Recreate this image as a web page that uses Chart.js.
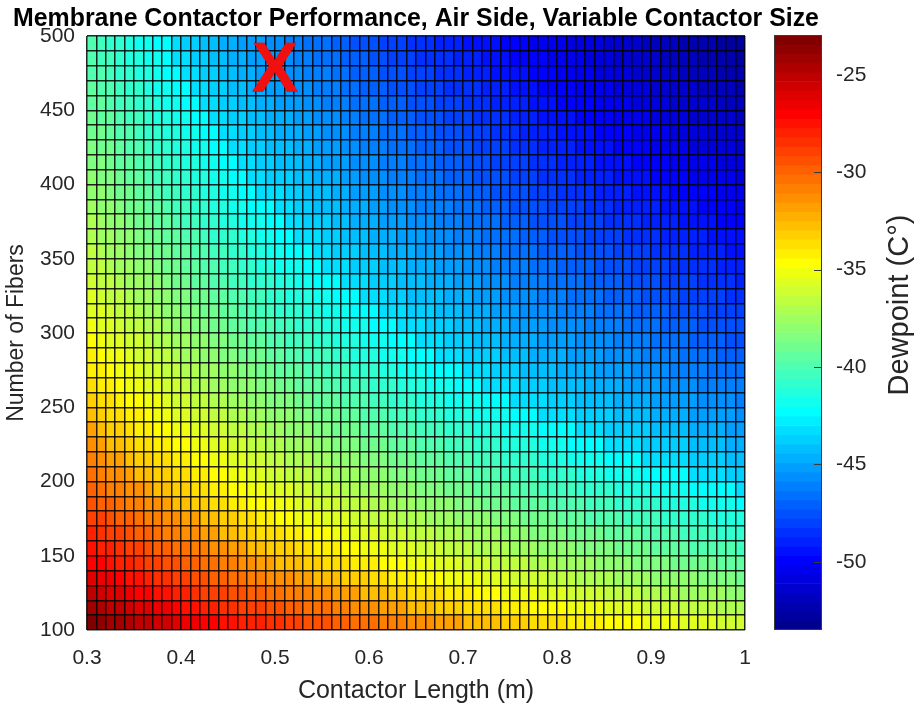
<!DOCTYPE html>
<html>
<head>
<meta charset="utf-8">
<script src="https://cdn.jsdelivr.net/npm/chart.js@4.4.1/dist/chart.umd.min.js"></script>
<style>
  html, body { margin: 0; padding: 0; background: #ffffff; overflow: hidden; }
  #wrap { position: relative; width: 921px; height: 703px; }
  #main { position: absolute; left: 0; top: 0; }
  #cbar { position: absolute; left: 760px; top: 0; }
</style>
</head>
<body>
<div id="wrap">
  <canvas id="main" width="840" height="703" style="width:840px;height:703px"></canvas>
  <canvas id="cbar" width="161" height="703" style="width:161px;height:703px"></canvas>
</div>
<script>
// ---------------- data ----------------
// cell left edges along x (contactor length, m)
const contactorLength = [0.30,0.31,0.32,0.33,0.34,0.35,0.36,0.37,0.38,0.39,
  0.40,0.41,0.42,0.43,0.44,0.45,0.46,0.47,0.48,0.49,
  0.50,0.51,0.52,0.53,0.54,0.55,0.56,0.57,0.58,0.59,
  0.60,0.61,0.62,0.63,0.64,0.65,0.66,0.67,0.68,0.69,
  0.70,0.71,0.72,0.73,0.74,0.75,0.76,0.77,0.78,0.79,
  0.80,0.81,0.82,0.83,0.84,0.85,0.86,0.87,0.88,0.89,
  0.90,0.91,0.92,0.93,0.94,0.95,0.96,0.97,0.98,0.99];
const lengthEnd = 1.00;
// cell bottom edges along y (number of fibers)
const fiberCount = [100,110,120,130,140,150,160,170,180,190,
  200,210,220,230,240,250,260,270,280,290,
  300,310,320,330,340,350,360,370,380,390,
  400,410,420,430,440,450,460,470,480,490];
const fiberEnd = 500;

// dewpoint (°C) of each cell, one row per fiber count (bottom row first)
const dewpoint = [
[-23,-23.5,-24,-24,-24.5,-25,-25,-25.5,-25.5,-26,-26.5,-26.5,-27,-27,-27.5,-27.5,-28,-28,-28,-28.5,-28.5,-29,-29,-29.5,-29.5,-29.5,-30,-30,-30.5,-30.5,-30.5,-31,-31,-31,-31.5,-31.5,-31.5,-32,-32,-32,-32.5,-32.5,-32.5,-32.5,-33,-33,-33,-33.5,-33.5,-33.5,-33.5,-34,-34,-34,-34,-34.5,-34.5,-34.5,-34.5,-35,-35,-35,-35,-35.5,-35.5,-35.5,-35.5,-36,-36,-36],
[-24,-24.5,-25,-25,-25.5,-26,-26,-26.5,-26.5,-27,-27.5,-27.5,-28,-28,-28.5,-28.5,-29,-29,-29,-29.5,-29.5,-30,-30,-30.5,-30.5,-30.5,-31,-31,-31.5,-31.5,-31.5,-32,-32,-32,-32.5,-32.5,-32.5,-33,-33,-33,-33.5,-33.5,-33.5,-33.5,-34,-34,-34,-34.5,-34.5,-34.5,-34.5,-35,-35,-35,-35,-35.5,-35.5,-35.5,-35.5,-36,-36,-36,-36,-36.5,-36.5,-36.5,-36.5,-37,-37,-37],
[-25,-25.5,-26,-26,-26.5,-27,-27,-27.5,-27.5,-28,-28,-28.5,-29,-29,-29,-29.5,-29.5,-30,-30,-30.5,-30.5,-31,-31,-31,-31.5,-31.5,-32,-32,-32,-32.5,-32.5,-32.5,-33,-33,-33.5,-33.5,-33.5,-33.5,-34,-34,-34,-34.5,-34.5,-34.5,-35,-35,-35,-35,-35.5,-35.5,-35.5,-36,-36,-36,-36,-36.5,-36.5,-36.5,-36.5,-37,-37,-37,-37,-37.5,-37.5,-37.5,-37.5,-37.5,-38,-38],
[-26,-26.5,-26.5,-27,-27.5,-27.5,-28,-28.5,-28.5,-29,-29,-29.5,-29.5,-30,-30,-30.5,-30.5,-31,-31,-31.5,-31.5,-31.5,-32,-32,-32.5,-32.5,-32.5,-33,-33,-33,-33.5,-33.5,-34,-34,-34,-34.5,-34.5,-34.5,-35,-35,-35,-35,-35.5,-35.5,-35.5,-36,-36,-36,-36,-36.5,-36.5,-36.5,-37,-37,-37,-37,-37.5,-37.5,-37.5,-37.5,-38,-38,-38,-38,-38,-38.5,-38.5,-38.5,-38.5,-39],
[-27,-27,-27.5,-28,-28,-28.5,-29,-29,-29.5,-29.5,-30,-30,-30.5,-30.5,-31,-31,-31.5,-31.5,-32,-32,-32.5,-32.5,-32.5,-33,-33,-33.5,-33.5,-33.5,-34,-34,-34,-34.5,-34.5,-34.5,-35,-35,-35,-35.5,-35.5,-35.5,-36,-36,-36,-36.5,-36.5,-36.5,-36.5,-37,-37,-37,-37.5,-37.5,-37.5,-37.5,-38,-38,-38,-38,-38.5,-38.5,-38.5,-38.5,-39,-39,-39,-39,-39,-39.5,-39.5,-39.5],
[-27.5,-28,-28,-28.5,-29,-29,-29.5,-30,-30,-30.5,-30.5,-31,-31,-31.5,-31.5,-32,-32,-32.5,-32.5,-33,-33,-33,-33.5,-33.5,-34,-34,-34,-34.5,-34.5,-35,-35,-35,-35.5,-35.5,-35.5,-36,-36,-36,-36.5,-36.5,-36.5,-37,-37,-37,-37,-37.5,-37.5,-37.5,-38,-38,-38,-38,-38.5,-38.5,-38.5,-38.5,-39,-39,-39,-39,-39.5,-39.5,-39.5,-39.5,-40,-40,-40,-40,-40,-40.5],
[-28,-28.5,-29,-29,-29.5,-30,-30,-30.5,-31,-31,-31.5,-31.5,-32,-32,-32.5,-32.5,-33,-33,-33.5,-33.5,-33.5,-34,-34,-34.5,-34.5,-34.5,-35,-35,-35.5,-35.5,-35.5,-36,-36,-36,-36.5,-36.5,-36.5,-37,-37,-37,-37.5,-37.5,-37.5,-37.5,-38,-38,-38,-38.5,-38.5,-38.5,-38.5,-39,-39,-39,-39,-39.5,-39.5,-39.5,-39.5,-40,-40,-40,-40,-40.5,-40.5,-40.5,-40.5,-41,-41,-41],
[-29,-29,-29.5,-30,-30,-30.5,-31,-31,-31.5,-31.5,-32,-32,-32.5,-32.5,-33,-33,-33.5,-33.5,-34,-34,-34.5,-34.5,-35,-35,-35,-35.5,-35.5,-35.5,-36,-36,-36.5,-36.5,-36.5,-37,-37,-37,-37.5,-37.5,-37.5,-38,-38,-38,-38,-38.5,-38.5,-38.5,-39,-39,-39,-39,-39.5,-39.5,-39.5,-40,-40,-40,-40,-40.5,-40.5,-40.5,-40.5,-41,-41,-41,-41,-41,-41.5,-41.5,-41.5,-41.5],
[-29.5,-30,-30,-30.5,-31,-31,-31.5,-31.5,-32,-32.5,-32.5,-33,-33,-33.5,-33.5,-34,-34,-34.5,-34.5,-34.5,-35,-35,-35.5,-35.5,-36,-36,-36,-36.5,-36.5,-36.5,-37,-37,-37.5,-37.5,-37.5,-38,-38,-38,-38,-38.5,-38.5,-38.5,-39,-39,-39,-39.5,-39.5,-39.5,-39.5,-40,-40,-40,-40,-40.5,-40.5,-40.5,-41,-41,-41,-41,-41,-41.5,-41.5,-41.5,-41.5,-42,-42,-42,-42,-42.5],
[-30,-30.5,-31,-31,-31.5,-31.5,-32,-32.5,-32.5,-33,-33,-33.5,-33.5,-34,-34,-34.5,-34.5,-35,-35,-35.5,-35.5,-35.5,-36,-36,-36.5,-36.5,-36.5,-37,-37,-37.5,-37.5,-37.5,-38,-38,-38,-38.5,-38.5,-38.5,-39,-39,-39,-39.5,-39.5,-39.5,-39.5,-40,-40,-40,-40.5,-40.5,-40.5,-40.5,-41,-41,-41,-41,-41.5,-41.5,-41.5,-41.5,-42,-42,-42,-42,-42.5,-42.5,-42.5,-42.5,-42.5,-43],
[-30.5,-31,-31.5,-31.5,-32,-32.5,-32.5,-33,-33,-33.5,-33.5,-34,-34,-34.5,-34.5,-35,-35,-35.5,-35.5,-36,-36,-36.5,-36.5,-36.5,-37,-37,-37.5,-37.5,-37.5,-38,-38,-38,-38.5,-38.5,-38.5,-39,-39,-39,-39.5,-39.5,-39.5,-40,-40,-40,-40.5,-40.5,-40.5,-40.5,-41,-41,-41,-41,-41.5,-41.5,-41.5,-42,-42,-42,-42,-42.5,-42.5,-42.5,-42.5,-42.5,-43,-43,-43,-43,-43.5,-43.5],
[-31,-31.5,-32,-32,-32.5,-33,-33,-33.5,-33.5,-34,-34,-34.5,-34.5,-35,-35,-35.5,-35.5,-36,-36,-36.5,-36.5,-37,-37,-37,-37.5,-37.5,-38,-38,-38,-38.5,-38.5,-38.5,-39,-39,-39,-39.5,-39.5,-39.5,-40,-40,-40,-40.5,-40.5,-40.5,-41,-41,-41,-41,-41.5,-41.5,-41.5,-42,-42,-42,-42,-42.5,-42.5,-42.5,-42.5,-43,-43,-43,-43,-43,-43.5,-43.5,-43.5,-43.5,-44,-44],
[-31.5,-32,-32.5,-32.5,-33,-33.5,-33.5,-34,-34,-34.5,-34.5,-35,-35,-35.5,-35.5,-36,-36,-36.5,-36.5,-37,-37,-37.5,-37.5,-37.5,-38,-38,-38.5,-38.5,-38.5,-39,-39,-39,-39.5,-39.5,-39.5,-40,-40,-40,-40.5,-40.5,-40.5,-41,-41,-41,-41.5,-41.5,-41.5,-41.5,-42,-42,-42,-42.5,-42.5,-42.5,-42.5,-43,-43,-43,-43,-43.5,-43.5,-43.5,-43.5,-43.5,-44,-44,-44,-44,-44.5,-44.5],
[-32,-32.5,-33,-33,-33.5,-34,-34,-34.5,-34.5,-35,-35,-35.5,-35.5,-36,-36,-36.5,-36.5,-37,-37,-37.5,-37.5,-38,-38,-38,-38.5,-38.5,-39,-39,-39,-39.5,-39.5,-39.5,-40,-40,-40,-40.5,-40.5,-40.5,-41,-41,-41,-41.5,-41.5,-41.5,-42,-42,-42,-42,-42.5,-42.5,-42.5,-42.5,-43,-43,-43,-43.5,-43.5,-43.5,-43.5,-43.5,-44,-44,-44,-44,-44.5,-44.5,-44.5,-44.5,-45,-45],
[-32.5,-33,-33.5,-33.5,-34,-34,-34.5,-35,-35,-35.5,-35.5,-36,-36,-36.5,-36.5,-37,-37,-37.5,-37.5,-38,-38,-38,-38.5,-38.5,-39,-39,-39,-39.5,-39.5,-40,-40,-40,-40.5,-40.5,-40.5,-41,-41,-41,-41.5,-41.5,-41.5,-42,-42,-42,-42,-42.5,-42.5,-42.5,-43,-43,-43,-43,-43.5,-43.5,-43.5,-43.5,-44,-44,-44,-44,-44.5,-44.5,-44.5,-44.5,-45,-45,-45,-45,-45,-45.5],
[-33,-33.5,-33.5,-34,-34.5,-34.5,-35,-35,-35.5,-36,-36,-36.5,-36.5,-37,-37,-37.5,-37.5,-38,-38,-38.5,-38.5,-38.5,-39,-39,-39.5,-39.5,-39.5,-40,-40,-40,-40.5,-40.5,-41,-41,-41,-41.5,-41.5,-41.5,-42,-42,-42,-42,-42.5,-42.5,-42.5,-43,-43,-43,-43,-43.5,-43.5,-43.5,-44,-44,-44,-44,-44.5,-44.5,-44.5,-44.5,-45,-45,-45,-45,-45,-45.5,-45.5,-45.5,-45.5,-46],
[-33.5,-34,-34,-34.5,-35,-35,-35.5,-35.5,-36,-36,-36.5,-37,-37,-37.5,-37.5,-38,-38,-38,-38.5,-38.5,-39,-39,-39.5,-39.5,-39.5,-40,-40,-40.5,-40.5,-40.5,-41,-41,-41,-41.5,-41.5,-41.5,-42,-42,-42,-42.5,-42.5,-42.5,-43,-43,-43,-43,-43.5,-43.5,-43.5,-44,-44,-44,-44,-44.5,-44.5,-44.5,-44.5,-45,-45,-45,-45,-45.5,-45.5,-45.5,-45.5,-46,-46,-46,-46,-46],
[-34,-34,-34.5,-35,-35,-35.5,-36,-36,-36.5,-36.5,-37,-37,-37.5,-37.5,-38,-38,-38.5,-38.5,-39,-39,-39.5,-39.5,-39.5,-40,-40,-40.5,-40.5,-40.5,-41,-41,-41,-41.5,-41.5,-42,-42,-42,-42.5,-42.5,-42.5,-42.5,-43,-43,-43,-43.5,-43.5,-43.5,-44,-44,-44,-44,-44.5,-44.5,-44.5,-44.5,-45,-45,-45,-45,-45.5,-45.5,-45.5,-45.5,-46,-46,-46,-46,-46.5,-46.5,-46.5,-46.5],
[-34,-34.5,-35,-35,-35.5,-36,-36,-36.5,-36.5,-37,-37.5,-37.5,-38,-38,-38.5,-38.5,-39,-39,-39,-39.5,-39.5,-40,-40,-40.5,-40.5,-40.5,-41,-41,-41.5,-41.5,-41.5,-42,-42,-42,-42.5,-42.5,-42.5,-43,-43,-43,-43.5,-43.5,-43.5,-43.5,-44,-44,-44,-44.5,-44.5,-44.5,-44.5,-45,-45,-45,-45,-45.5,-45.5,-45.5,-45.5,-46,-46,-46,-46,-46.5,-46.5,-46.5,-46.5,-47,-47,-47],
[-34.5,-35,-35.5,-35.5,-36,-36,-36.5,-37,-37,-37.5,-37.5,-38,-38,-38.5,-38.5,-39,-39,-39.5,-39.5,-40,-40,-40.5,-40.5,-40.5,-41,-41,-41.5,-41.5,-41.5,-42,-42,-42,-42.5,-42.5,-42.5,-43,-43,-43,-43.5,-43.5,-43.5,-44,-44,-44,-44.5,-44.5,-44.5,-44.5,-45,-45,-45,-45,-45.5,-45.5,-45.5,-45.5,-46,-46,-46,-46,-46.5,-46.5,-46.5,-46.5,-47,-47,-47,-47,-47.5,-47.5],
[-35,-35.5,-35.5,-36,-36.5,-36.5,-37,-37,-37.5,-38,-38,-38.5,-38.5,-39,-39,-39.5,-39.5,-40,-40,-40,-40.5,-40.5,-41,-41,-41,-41.5,-41.5,-42,-42,-42,-42.5,-42.5,-42.5,-43,-43,-43,-43.5,-43.5,-43.5,-44,-44,-44,-44.5,-44.5,-44.5,-45,-45,-45,-45,-45.5,-45.5,-45.5,-45.5,-46,-46,-46,-46,-46.5,-46.5,-46.5,-46.5,-47,-47,-47,-47,-47.5,-47.5,-47.5,-47.5,-47.5],
[-35.5,-35.5,-36,-36.5,-36.5,-37,-37.5,-37.5,-38,-38,-38.5,-38.5,-39,-39,-39.5,-39.5,-40,-40,-40.5,-40.5,-41,-41,-41,-41.5,-41.5,-42,-42,-42,-42.5,-42.5,-42.5,-43,-43,-43,-43.5,-43.5,-43.5,-44,-44,-44,-44.5,-44.5,-44.5,-45,-45,-45,-45.5,-45.5,-45.5,-45.5,-46,-46,-46,-46,-46.5,-46.5,-46.5,-46.5,-47,-47,-47,-47,-47.5,-47.5,-47.5,-47.5,-48,-48,-48,-48],
[-35.5,-36,-36.5,-36.5,-37,-37.5,-37.5,-38,-38,-38.5,-38.5,-39,-39,-39.5,-39.5,-40,-40,-40.5,-40.5,-41,-41,-41.5,-41.5,-41.5,-42,-42,-42.5,-42.5,-42.5,-43,-43,-43,-43.5,-43.5,-44,-44,-44,-44,-44.5,-44.5,-44.5,-45,-45,-45,-45.5,-45.5,-45.5,-45.5,-46,-46,-46,-46.5,-46.5,-46.5,-46.5,-47,-47,-47,-47,-47.5,-47.5,-47.5,-47.5,-48,-48,-48,-48,-48,-48.5,-48.5],
[-36,-36.5,-36.5,-37,-37.5,-37.5,-38,-38,-38.5,-39,-39,-39.5,-39.5,-40,-40,-40.5,-40.5,-41,-41,-41,-41.5,-41.5,-42,-42,-42.5,-42.5,-42.5,-43,-43,-43,-43.5,-43.5,-43.5,-44,-44,-44,-44.5,-44.5,-44.5,-45,-45,-45,-45.5,-45.5,-45.5,-46,-46,-46,-46,-46.5,-46.5,-46.5,-46.5,-47,-47,-47,-47,-47.5,-47.5,-47.5,-47.5,-48,-48,-48,-48,-48.5,-48.5,-48.5,-48.5,-49],
[-36.5,-36.5,-37,-37.5,-37.5,-38,-38,-38.5,-39,-39,-39.5,-39.5,-40,-40,-40.5,-40.5,-41,-41,-41.5,-41.5,-42,-42,-42,-42.5,-42.5,-43,-43,-43,-43.5,-43.5,-43.5,-44,-44,-44,-44.5,-44.5,-44.5,-45,-45,-45,-45.5,-45.5,-45.5,-46,-46,-46,-46,-46.5,-46.5,-46.5,-47,-47,-47,-47,-47.5,-47.5,-47.5,-47.5,-48,-48,-48,-48,-48.5,-48.5,-48.5,-48.5,-48.5,-49,-49,-49],
[-36.5,-37,-37.5,-37.5,-38,-38.5,-38.5,-39,-39,-39.5,-39.5,-40,-40,-40.5,-40.5,-41,-41,-41.5,-41.5,-42,-42,-42.5,-42.5,-42.5,-43,-43,-43.5,-43.5,-43.5,-44,-44,-44,-44.5,-44.5,-44.5,-45,-45,-45,-45.5,-45.5,-45.5,-46,-46,-46,-46.5,-46.5,-46.5,-46.5,-47,-47,-47,-47,-47.5,-47.5,-47.5,-47.5,-48,-48,-48,-48,-48.5,-48.5,-48.5,-48.5,-49,-49,-49,-49,-49.5,-49.5],
[-37,-37.5,-37.5,-38,-38,-38.5,-39,-39,-39.5,-39.5,-40,-40,-40.5,-41,-41,-41,-41.5,-41.5,-42,-42,-42.5,-42.5,-43,-43,-43,-43.5,-43.5,-44,-44,-44,-44.5,-44.5,-44.5,-45,-45,-45,-45.5,-45.5,-45.5,-46,-46,-46,-46.5,-46.5,-46.5,-46.5,-47,-47,-47,-47.5,-47.5,-47.5,-47.5,-48,-48,-48,-48,-48.5,-48.5,-48.5,-48.5,-49,-49,-49,-49,-49,-49.5,-49.5,-49.5,-49.5],
[-37,-37.5,-38,-38,-38.5,-39,-39,-39.5,-39.5,-40,-40.5,-40.5,-41,-41,-41.5,-41.5,-42,-42,-42,-42.5,-42.5,-43,-43,-43.5,-43.5,-43.5,-44,-44,-44.5,-44.5,-44.5,-45,-45,-45,-45.5,-45.5,-45.5,-46,-46,-46,-46.5,-46.5,-46.5,-46.5,-47,-47,-47,-47.5,-47.5,-47.5,-47.5,-48,-48,-48,-48,-48.5,-48.5,-48.5,-48.5,-49,-49,-49,-49,-49.5,-49.5,-49.5,-49.5,-50,-50,-50],
[-37.5,-38,-38,-38.5,-39,-39,-39.5,-39.5,-40,-40.5,-40.5,-41,-41,-41.5,-41.5,-42,-42,-42.5,-42.5,-42.5,-43,-43,-43.5,-43.5,-44,-44,-44,-44.5,-44.5,-44.5,-45,-45,-45.5,-45.5,-45.5,-46,-46,-46,-46,-46.5,-46.5,-46.5,-47,-47,-47,-47.5,-47.5,-47.5,-47.5,-48,-48,-48,-48,-48.5,-48.5,-48.5,-49,-49,-49,-49,-49,-49.5,-49.5,-49.5,-49.5,-50,-50,-50,-50,-50.5],
[-38,-38,-38.5,-39,-39,-39.5,-39.5,-40,-40.5,-40.5,-41,-41,-41.5,-41.5,-42,-42,-42.5,-42.5,-43,-43,-43,-43.5,-43.5,-44,-44,-44,-44.5,-44.5,-45,-45,-45,-45.5,-45.5,-45.5,-46,-46,-46,-46.5,-46.5,-46.5,-47,-47,-47,-47.5,-47.5,-47.5,-47.5,-48,-48,-48,-48.5,-48.5,-48.5,-48.5,-49,-49,-49,-49,-49.5,-49.5,-49.5,-49.5,-50,-50,-50,-50,-50,-50.5,-50.5,-50.5],
[-38,-38.5,-38.5,-39,-39.5,-39.5,-40,-40.5,-40.5,-41,-41,-41.5,-41.5,-42,-42,-42.5,-42.5,-43,-43,-43.5,-43.5,-43.5,-44,-44,-44.5,-44.5,-44.5,-45,-45,-45.5,-45.5,-45.5,-46,-46,-46,-46.5,-46.5,-46.5,-47,-47,-47,-47.5,-47.5,-47.5,-47.5,-48,-48,-48,-48.5,-48.5,-48.5,-48.5,-49,-49,-49,-49,-49.5,-49.5,-49.5,-49.5,-50,-50,-50,-50,-50.5,-50.5,-50.5,-50.5,-50.5,-51],
[-38.5,-38.5,-39,-39.5,-39.5,-40,-40,-40.5,-41,-41,-41.5,-41.5,-42,-42,-42.5,-42.5,-43,-43,-43.5,-43.5,-44,-44,-44,-44.5,-44.5,-45,-45,-45,-45.5,-45.5,-45.5,-46,-46,-46,-46.5,-46.5,-46.5,-47,-47,-47,-47.5,-47.5,-47.5,-48,-48,-48,-48,-48.5,-48.5,-48.5,-49,-49,-49,-49,-49.5,-49.5,-49.5,-49.5,-50,-50,-50,-50,-50.5,-50.5,-50.5,-50.5,-50.5,-51,-51,-51],
[-38.5,-39,-39,-39.5,-40,-40,-40.5,-41,-41,-41.5,-41.5,-42,-42,-42.5,-42.5,-43,-43,-43.5,-43.5,-44,-44,-44,-44.5,-44.5,-45,-45,-45,-45.5,-45.5,-46,-46,-46,-46.5,-46.5,-46.5,-47,-47,-47,-47.5,-47.5,-47.5,-48,-48,-48,-48,-48.5,-48.5,-48.5,-49,-49,-49,-49,-49.5,-49.5,-49.5,-49.5,-50,-50,-50,-50,-50.5,-50.5,-50.5,-50.5,-51,-51,-51,-51,-51,-51.5],
[-39,-39,-39.5,-40,-40,-40.5,-41,-41,-41.5,-41.5,-42,-42,-42.5,-42.5,-43,-43,-43.5,-43.5,-44,-44,-44.5,-44.5,-44.5,-45,-45,-45.5,-45.5,-45.5,-46,-46,-46,-46.5,-46.5,-46.5,-47,-47,-47,-47.5,-47.5,-47.5,-48,-48,-48,-48.5,-48.5,-48.5,-49,-49,-49,-49,-49.5,-49.5,-49.5,-49.5,-50,-50,-50,-50,-50.5,-50.5,-50.5,-50.5,-51,-51,-51,-51,-51.5,-51.5,-51.5,-51.5],
[-39,-39.5,-39.5,-40,-40.5,-40.5,-41,-41.5,-41.5,-42,-42,-42.5,-42.5,-43,-43,-43.5,-43.5,-44,-44,-44.5,-44.5,-44.5,-45,-45,-45.5,-45.5,-45.5,-46,-46,-46.5,-46.5,-46.5,-47,-47,-47,-47.5,-47.5,-47.5,-48,-48,-48,-48.5,-48.5,-48.5,-48.5,-49,-49,-49,-49.5,-49.5,-49.5,-49.5,-50,-50,-50,-50,-50.5,-50.5,-50.5,-50.5,-51,-51,-51,-51,-51.5,-51.5,-51.5,-51.5,-51.5,-52],
[-39.5,-39.5,-40,-40.5,-40.5,-41,-41,-41.5,-42,-42,-42.5,-42.5,-43,-43,-43.5,-43.5,-44,-44,-44.5,-44.5,-45,-45,-45,-45.5,-45.5,-46,-46,-46,-46.5,-46.5,-46.5,-47,-47,-47,-47.5,-47.5,-47.5,-48,-48,-48,-48.5,-48.5,-48.5,-49,-49,-49,-49,-49.5,-49.5,-49.5,-50,-50,-50,-50,-50.5,-50.5,-50.5,-50.5,-51,-51,-51,-51,-51.5,-51.5,-51.5,-51.5,-51.5,-52,-52,-52],
[-39.5,-40,-40,-40.5,-41,-41,-41.5,-42,-42,-42.5,-42.5,-43,-43,-43.5,-43.5,-44,-44,-44.5,-44.5,-45,-45,-45,-45.5,-45.5,-46,-46,-46,-46.5,-46.5,-47,-47,-47,-47.5,-47.5,-47.5,-48,-48,-48,-48.5,-48.5,-48.5,-48.5,-49,-49,-49,-49.5,-49.5,-49.5,-50,-50,-50,-50,-50.5,-50.5,-50.5,-50.5,-51,-51,-51,-51,-51.5,-51.5,-51.5,-51.5,-51.5,-52,-52,-52,-52,-52.5],
[-40,-40,-40.5,-41,-41,-41.5,-41.5,-42,-42.5,-42.5,-43,-43,-43.5,-43.5,-44,-44,-44.5,-44.5,-45,-45,-45,-45.5,-45.5,-46,-46,-46,-46.5,-46.5,-47,-47,-47,-47.5,-47.5,-47.5,-48,-48,-48,-48.5,-48.5,-48.5,-49,-49,-49,-49.5,-49.5,-49.5,-49.5,-50,-50,-50,-50.5,-50.5,-50.5,-50.5,-51,-51,-51,-51,-51.5,-51.5,-51.5,-51.5,-51.5,-52,-52,-52,-52,-52.5,-52.5,-52.5],
[-40,-40.5,-40.5,-41,-41.5,-41.5,-42,-42,-42.5,-43,-43,-43.5,-43.5,-44,-44,-44.5,-44.5,-45,-45,-45,-45.5,-45.5,-46,-46,-46.5,-46.5,-46.5,-47,-47,-47,-47.5,-47.5,-48,-48,-48,-48.5,-48.5,-48.5,-48.5,-49,-49,-49,-49.5,-49.5,-49.5,-50,-50,-50,-50,-50.5,-50.5,-50.5,-50.5,-51,-51,-51,-51.5,-51.5,-51.5,-51.5,-51.5,-52,-52,-52,-52,-52.5,-52.5,-52.5,-52.5,-53],
[-40,-40.5,-41,-41,-41.5,-42,-42,-42.5,-42.5,-43,-43.5,-43.5,-44,-44,-44.5,-44.5,-45,-45,-45,-45.5,-45.5,-46,-46,-46.5,-46.5,-46.5,-47,-47,-47.5,-47.5,-47.5,-48,-48,-48,-48.5,-48.5,-48.5,-49,-49,-49,-49.5,-49.5,-49.5,-49.5,-50,-50,-50,-50.5,-50.5,-50.5,-50.5,-51,-51,-51,-51,-51.5,-51.5,-51.5,-51.5,-52,-52,-52,-52,-52.5,-52.5,-52.5,-52.5,-53,-53,-53]
];

// axis tick labels
const xTickValues = [0.3, 0.4, 0.5, 0.6, 0.7, 0.8, 0.9, 1.0];
const yTickValues = [100, 150, 200, 250, 300, 350, 400, 450, 500];
const colorbarTicks = [-50, -45, -40, -35, -30, -25];
const colorbarMin = -53.5;
const colorbarMax = -22.95;

// red "X" marker
const markerX = [0.5];
const markerY = [480];

const titleText = 'Membrane Contactor Performance, Air Side, Variable Contactor Size';

// ---------------- colour map (MATLAB jet, 64 levels) ----------------
const NLEV = 64;
function clamp01(v) { return Math.max(0, Math.min(1, v)); }
function jet(k) {
  const x = (k + 1) / NLEV;
  const r = clamp01(Math.min(4 * x - 1.5, -4 * x + 4.5));
  const g = clamp01(Math.min(4 * x - 0.5, -4 * x + 3.5));
  const b = clamp01(Math.min(4 * x + 0.5, -4 * x + 2.5));
  return 'rgb(' + Math.round(r * 255) + ',' + Math.round(g * 255) + ',' + Math.round(b * 255) + ')';
}
function colorFor(v) {
  let k = Math.floor((v - colorbarMin) / (colorbarMax - colorbarMin) * NLEV);
  k = Math.max(0, Math.min(NLEV - 1, k));
  return jet(k);
}

// pick an installed bold face whose width is closest to Helvetica/Arial Bold
const measureCtx = document.createElement('canvas').getContext('2d');
function boldWidth(fam) {
  measureCtx.font = 'bold 100px ' + fam + ', monospace';
  return measureCtx.measureText(titleText).width / 100;
}
const boldCandidates = ['"Liberation Sans"', 'Arimo', 'Arial', 'Helvetica', 'Roboto', 'Lato', '"Noto Sans"', '"Open Sans"', 'Inter', '"DejaVu Sans"'];
let boldFamily = '"Liberation Sans"', bestErr = Infinity;
boldCandidates.forEach(f => {
  const err = Math.abs(boldWidth(f) - 32.45);
  if (err < bestErr) { bestErr = err; boldFamily = f; }
});
const titleSize = Math.min(26, 806 / boldWidth(boldFamily));

Chart.defaults.font.family = '"Liberation Sans", Arial, Helvetica, sans-serif';
Chart.defaults.color = '#262626';

const cellW = contactorLength[1] - contactorLength[0];
const cellH = fiberCount[1] - fiberCount[0];
const xEdges = contactorLength.concat([lengthEnd]);
const yEdges = fiberCount.concat([fiberEnd]);

function near(list, v, tol) { return list.find(t => Math.abs(t - v) < tol); }

// marker glyph drawn as pointStyle
const xGlyph = document.createElement('canvas');
xGlyph.width = 70; xGlyph.height = 72;
(function () {
  const c = xGlyph.getContext('2d');
  c.font = 'bold 100px ' + boldFamily + ', monospace';
  const w100 = c.measureText('X').width;
  const sz = Math.min(76, 4700 / w100);
  c.font = 'bold ' + sz.toFixed(1) + 'px ' + boldFamily + ', monospace';
  c.fillStyle = '#f01010';
  c.textAlign = 'center';
  c.textBaseline = 'alphabetic';
  c.fillText('X', 35, 36 + 26);
})();

const cellDatasets = fiberCount.map((n, j) => ({
  type: 'bar',
  label: 'N=' + n,
  data: contactorLength.map((L, i) => ({ x: L + cellW / 2, y: [n, n + cellH] })),
  backgroundColor: dewpoint[j].map(colorFor),
  borderWidth: 0,
  grouped: false,
  barPercentage: 1,
  categoryPercentage: 1,
  order: 2
}));
const markerDataset = {
  type: 'scatter',
  label: 'design point',
  data: markerX.map((x, i) => ({ x: x, y: markerY[i] })),
  pointStyle: xGlyph,
  pointRadius: 1,
  order: 1
};
const markerIndex = cellDatasets.length;

// title centred over the plot area (drawn without width compression)
const plotTitle = {
  id: 'plotTitle',
  afterDraw(chart) {
    const ctx = chart.ctx, a = chart.chartArea;
    ctx.save();
    ctx.fillStyle = '#000000';
    ctx.font = 'bold ' + titleSize.toFixed(2) + 'px ' + boldFamily + ', sans-serif';
    ctx.textAlign = 'center';
    ctx.textBaseline = 'alphabetic';
    ctx.fillText(titleText, (a.left + a.right) / 2, 26);
    ctx.restore();
  }
};
const markerOnTop = {
  id: 'markerOnTop',
  afterDraw(chart) {
    const meta = chart.getDatasetMeta(markerIndex);
    meta.data.forEach(el => el.draw(chart.ctx));
  }
};

new Chart(document.getElementById('main'), {
  type: 'bar',
  data: { datasets: cellDatasets.concat([markerDataset]) },
  options: {
    responsive: false,
    animation: false,
    events: [],
    layout: { autoPadding: false, padding: { left: 0, right: 95, top: 36, bottom: 0 } },
    plugins: {
      legend: { display: false },
      tooltip: { enabled: false },
      title: { display: false }
    },
    scales: {
      x: {
        type: 'linear',
        min: contactorLength[0],
        max: lengthEnd,
        offset: false,
        afterBuildTicks: s => { s.ticks = xEdges.map(v => ({ value: v })); },
        afterFit: s => { s.height = 73; },
        grid: { offset: false, color: 'rgba(0,0,0,0.85)', lineWidth: 1.5, z: 1, drawTicks: false },
        border: { display: false },
        ticks: {
          autoSkip: false, maxRotation: 0, minRotation: 0, padding: 16,
          color: '#262626', font: { size: 21 },
          callback: v => { const t = near(xTickValues, v, 1e-6); return t === undefined ? '' : String(t); }
        },
        title: {
          display: true, text: 'Contactor Length (m)', color: '#262626',
          font: { size: 25, lineHeight: 0.94 }, padding: 0
        }
      },
      y: {
        type: 'linear',
        min: fiberCount[0],
        max: fiberEnd,
        afterBuildTicks: s => { s.ticks = yEdges.map(v => ({ value: v })); },
        afterFit: s => { s.width = 87; },
        grid: { color: 'rgba(0,0,0,0.85)', lineWidth: 1.5, z: 1, drawTicks: false },
        border: { display: false },
        ticks: {
          autoSkip: false, padding: 12, color: '#262626', font: { size: 21 },
          callback: v => { const t = near(yTickValues, v, 1e-6); return t === undefined ? '' : String(t); }
        },
        title: {
          display: true, text: 'Number of Fibers', color: '#262626',
          font: { size: 23, lineHeight: 1.2 }, padding: { top: 3, bottom: 0 }
        }
      }
    }
  },
  plugins: [plotTitle, markerOnTop]
});

// ---------------- colour bar ----------------
const levStep = (colorbarMax - colorbarMin) / NLEV;
const cbSegments = [];
const cbColors = [];
for (let k = 0; k < NLEV; k++) {
  cbSegments.push([colorbarMin + k * levStep, colorbarMin + (k + 1) * levStep]);
  cbColors.push(jet(k));
}

const cbDecor = {
  id: 'cbDecor',
  afterDraw(chart) {
    const ctx = chart.ctx, a = chart.chartArea, ys = chart.scales.y;
    ctx.save();
    ctx.strokeStyle = '#3a3a3a';
    ctx.lineWidth = 1;
    ctx.strokeRect(Math.round(a.left) + 0.5, Math.round(a.top) + 0.5,
      Math.round(a.right - a.left) - 1, Math.round(a.bottom - a.top) - 1);
    colorbarTicks.forEach(v => {
      const y = Math.round(ys.getPixelForValue(v)) + 0.5;
      ctx.beginPath();
      ctx.moveTo(a.right - 8, y);
      ctx.lineTo(a.right, y);
      ctx.stroke();
    });
    ctx.translate(140, 305);
    ctx.rotate(-Math.PI / 2);
    ctx.fillStyle = '#262626';
    ctx.font = '29px "Liberation Sans", Arial, sans-serif';
    ctx.textAlign = 'center';
    ctx.textBaseline = 'middle';
    ctx.fillText('Dewpoint (C\u00B0)', 0, 0);
    ctx.restore();
  }
};

new Chart(document.getElementById('cbar'), {
  type: 'bar',
  data: {
    labels: ['cb'],
    datasets: [{
      label: 'colorbar',
      data: cbSegments.map(s => ({ x: 'cb', y: s })),
      backgroundColor: cbColors,
      borderWidth: 0,
      grouped: false,
      barPercentage: 1,
      categoryPercentage: 1
    }]
  },
  options: {
    responsive: false,
    animation: false,
    events: [],
    layout: { padding: { left: 14, right: 0, top: 35, bottom: 73 } },
    plugins: { legend: { display: false }, tooltip: { enabled: false } },
    scales: {
      x: { display: false },
      y: {
        position: 'right',
        min: colorbarMin,
        max: colorbarMax,
        afterBuildTicks: s => { s.ticks = colorbarTicks.map(v => ({ value: v })); },
        afterFit: s => { s.width = 99; },
        grid: { display: false },
        border: { display: false },
        ticks: { padding: 6, color: '#262626', font: { size: 21 } }
      }
    }
  },
  plugins: [cbDecor]
});
</script>
</body>
</html>
